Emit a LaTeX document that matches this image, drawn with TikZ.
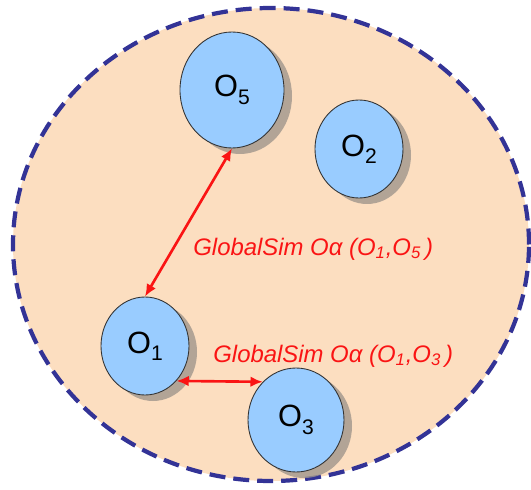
\documentclass[tikz,border=0pt]{standalone}
\usepackage{fontspec}
\setmainfont{Liberation Sans}
\usetikzlibrary{shapes.geometric,shadows,arrows.meta}
\definecolor{CBG}{RGB}{252,222,192}
\definecolor{CBRD}{RGB}{51,51,150}
\definecolor{COBJ}{RGB}{153,204,255}
\definecolor{CSHD}{RGB}{160,150,140}
\definecolor{CREL}{RGB}{250,20,20}
\newcommand{\objlbl}[1]{O\raisebox{-0.45ex}{\fontsize{12}{12}\selectfont #1}}
\newcommand{\simlbl}[2]{\textit{GlobalSim Oα (O\textsubscript{#1},O\textsubscript{#2}\,)}}

\begin{document}
\begin{tikzpicture}[
  obj/.style={ellipse,draw=black!80,line width=0.5pt,fill=COBJ,inner sep=0pt,
    font=\fontsize{17.5}{18}\selectfont,
    drop shadow={shadow xshift=0.16cm,shadow yshift=-0.12cm,fill=CSHD,opacity=0.8}},
  rel/.style={CREL,line width=1.5pt,{Latex[length=7pt,width=6pt]}-{Latex[length=7pt,width=6pt]}},
  simtxt/.style={text=CREL,font=\fontsize{13.6}{14}\selectfont,anchor=west,inner sep=0pt}]
  \useasboundingbox (0,0) rectangle (10.62,9.78);
  \draw[CBRD,fill=CBG,line width=2.4pt,dash pattern=on 0.32cm off 0.16cm] (5.42,4.89) ellipse [x radius=5.16cm,y radius=4.73cm];
  \node[obj,minimum width=2.08cm,minimum height=2.32cm] (O5) at (4.64,7.98) {\objlbl{5}};
  \node[obj,minimum width=1.76cm,minimum height=1.96cm] (O2) at (7.18,6.80) {\objlbl{2}};
  \node[obj,minimum width=1.76cm,minimum height=1.96cm] (O1) at (2.90,2.86) {\objlbl{1}};
  \node[obj,minimum width=1.92cm,minimum height=2.08cm] (O3) at (5.92,1.38) {\objlbl{3}};
  \draw[rel] (O1.north) -- (O5.south);
  \draw[rel] (O1.-48) -- (O3.131);
  \node[simtxt] (s15) at (3.86,4.80) {\simlbl{1}{5}};
  \node[simtxt] (s13) at (4.26,2.66) {\simlbl{1}{3}};
\end{tikzpicture}
\end{document}
